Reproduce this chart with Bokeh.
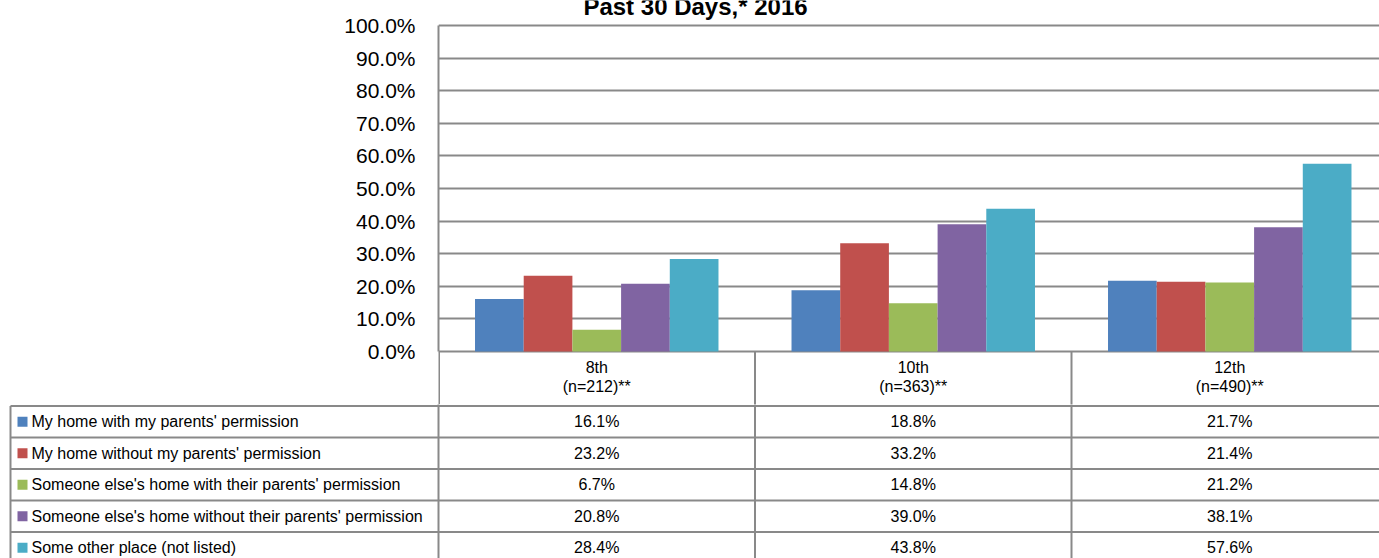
from bokeh.plotting import figure
from bokeh.models import Range1d, FixedTicker, ColumnDataSource, CustomJSTickFormatter
from bokeh.core.properties import value
from bokeh.embed import file_html
from bokeh.resources import INLINE

# ---------------- data ----------------
title_text = "Past 30 Days,* 2016"
grades = ["8th", "10th", "12th"]
sample_sizes = ["(n=212)**", "(n=363)**", "(n=490)**"]
series_names = [
    "My home with my parents' permission",
    "My home without my parents' permission",
    "Someone else's home with their parents' permission",
    "Someone else's home without their parents' permission",
    "Some other place (not listed)",
]
my_home_with_permission = [16.1, 18.8, 21.7]
my_home_without_permission = [23.2, 33.2, 21.4]
else_home_with_permission = [6.7, 14.8, 21.2]
else_home_without_permission = [20.8, 39.0, 38.1]
other_place = [28.4, 43.8, 57.6]
series_values = [
    my_home_with_permission,
    my_home_without_permission,
    else_home_with_permission,
    else_home_without_permission,
    other_place,
]
colors = ["#4F81BD", "#C0504D", "#9BBB59", "#8064A2", "#4BACC6"]
y_ticks = list(range(0, 101, 10))

# ---------------- layout constants ----------------
FONT = "Liberation Sans"
GRID = "#898989"
W = 1379
GROUP_PX = 316.5
LEFT_PX = 438
PX_PER_PCT = 3.26
ZERO_PX = 351          # page y of the 0% line
X_END = (W - LEFT_PX) / GROUP_PX
X_START = -LEFT_PX / GROUP_PX
BAR_W = 1 / 6.5
CH_H = 404             # chart (incl. category header row)


def pct_y(page_y):
    return (ZERO_PX - page_y) / PX_PER_PCT


# ---------------- chart + category header ----------------
p = figure(
    width=W, height=CH_H,
    x_range=Range1d(0, X_END),
    y_range=Range1d(pct_y(CH_H), pct_y(0)),
    x_axis_location=None,
    output_backend="svg", toolbar_location=None,
    min_border_left=LEFT_PX, min_border_right=0,
    min_border_top=0, min_border_bottom=0,
)
p.outline_line_color = None
p.xgrid.grid_line_color = None
p.ygrid.ticker = FixedTicker(ticks=y_ticks)
p.ygrid.grid_line_color = GRID
p.ygrid.grid_line_width = 2

ax = p.yaxis[0]
ax.ticker = FixedTicker(ticks=y_ticks)
ax.formatter = CustomJSTickFormatter(code="return tick.toFixed(1) + '%';")
ax.bounds = (0, 100)
ax.axis_line_color = GRID
ax.axis_line_width = 2
ax.major_tick_line_color = None
ax.minor_tick_line_color = None
ax.major_label_text_font = FONT
ax.major_label_text_font_size = "21px"
ax.major_label_text_color = "#000000"
ax.major_label_standoff = 17

for k, vals in enumerate(series_values):
    src = ColumnDataSource(dict(
        x=[i + 0.5 + (k - 2) * BAR_W for i in range(len(grades))],
        top=vals,
    ))
    p.vbar(x="x", top="top", bottom=0, width=BAR_W, source=src,
           fill_color=colors[k], line_color=None)

p.text(x=[(695 - LEFT_PX) / GROUP_PX], y=[pct_y(6)], text=[title_text],
       text_font=value(FONT), text_font_style="bold", text_font_size="24px",
       text_align="center", text_baseline="alphabetic", text_color="#000000")

# header-row vertical lines (below the 0% line)
hx = [i + (0.5 / GROUP_PX if i == 0 else 0) for i in range(len(grades))]
p.segment(x0=hx, y0=[0] * len(grades), x1=hx, y1=[pct_y(CH_H + 2)] * len(grades),
          line_color=GRID, line_width=2)

centers = [i + 0.5 for i in range(len(grades))]
p.text(x=centers, y=[pct_y(367)] * len(grades), text=grades,
       text_font=value(FONT), text_font_size="16px", text_align="center",
       text_baseline="middle", text_color="#000000")
p.text(x=centers, y=[pct_y(386)] * len(grades), text=sample_sizes,
       text_font=value(FONT), text_font_size="16px", text_align="center",
       text_baseline="middle", text_color="#000000")

# ---------------- data table ----------------
TB_TOP = CH_H
TB_BOT = 558
t = figure(
    width=W, height=TB_BOT - TB_TOP,
    x_range=Range1d(X_START, X_END),
    y_range=Range1d(TB_BOT, TB_TOP),
    x_axis_location=None, y_axis_location=None,
    output_backend="svg", toolbar_location=None,
    min_border_left=0, min_border_right=0, min_border_top=0, min_border_bottom=0,
)
t.outline_line_color = None
t.xgrid.grid_line_color = None
t.ygrid.grid_line_color = None

legend_left = (10 - LEFT_PX) / GROUP_PX
row_top0 = 405.5
row_h = 31.5
row_lines = [row_top0 + row_h * k for k in range(len(series_names))]
row_centers = [row_top0 + row_h * (k + 0.5) for k in range(len(series_names))]

t.segment(x0=list(range(len(grades))), y0=[TB_TOP - 2] * len(grades),
          x1=list(range(len(grades))), y1=[TB_BOT] * len(grades),
          line_color=GRID, line_width=2)
t.segment(x0=[legend_left], y0=[row_top0], x1=[legend_left], y1=[TB_BOT],
          line_color=GRID, line_width=2)
t.segment(x0=[legend_left] * len(row_lines), y0=row_lines,
          x1=[X_END + 0.1] * len(row_lines), y1=row_lines,
          line_color=GRID, line_width=2)

vx, vy, vt = [], [], []
for k, vals in enumerate(series_values):
    for i, v in enumerate(vals):
        vx.append(i + 0.5)
        vy.append(row_centers[k])
        vt.append(f"{v:.1f}%")
t.text(x=vx, y=vy, text=vt, text_font=value(FONT), text_font_size="16px",
       text_align="center", text_baseline="middle", text_color="#000000")

t.scatter(x=[(22 - LEFT_PX) / GROUP_PX] * len(series_names), y=row_centers,
          marker="square", size=10, fill_color=colors, line_color=None)
t.text(x=[(31 - LEFT_PX) / GROUP_PX] * len(series_names), y=row_centers, text=series_names,
       text_font=value(FONT), text_font_size="16px", text_align="left",
       text_baseline="middle", text_color="#000000")

open("out.html", "w").write(file_html([p, t], INLINE))
